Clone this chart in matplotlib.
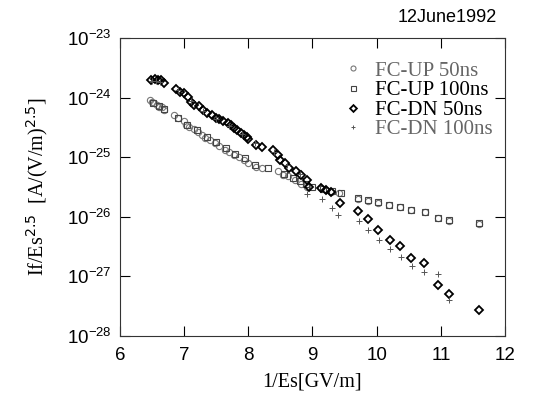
import numpy as np
import matplotlib.pyplot as plt

# FC-UP 50ns (open circles)
up50_x = [6.47, 6.50, 6.53, 6.57, 6.61, 6.65, 6.69, 6.84, 6.91, 6.99, 7.03, 7.08, 7.16, 7.21,
          7.28, 7.33, 7.41, 7.48, 7.55, 7.63, 7.70, 7.78, 7.85, 7.93, 8.00, 8.12, 8.22, 8.47,
          8.54, 8.62, 8.72, 8.82, 8.92, 9.14, 9.21, 9.29, 9.41, 9.71, 9.87, 10.02, 10.20,
          10.37, 10.54, 10.75, 10.95, 11.13, 11.60]
up50_y = [9.0e-25, 8.5e-25, 8.0e-25, 7.6e-25, 7.0e-25, 6.8e-25, 6.2e-25, 5.1e-25, 4.5e-25,
          4.0e-25, 3.5e-25, 3.2e-25, 3.0e-25, 2.6e-25, 2.35e-25, 2.1e-25, 1.95e-25, 1.7e-25,
          1.55e-25, 1.32e-25, 1.23e-25, 1.1e-25, 1.0e-25, 9.1e-26, 7.9e-26, 6.9e-26, 6.6e-26,
          5.8e-26, 5.0e-26, 4.8e-26, 4.2e-26, 3.6e-26, 3.2e-26, 3.0e-26, 2.8e-26, 2.6e-26,
          2.5e-26, 2.0e-26, 1.85e-26, 1.7e-26, 1.55e-26, 1.45e-26, 1.3e-26, 1.2e-26, 9.5e-27,
          8.5e-27, 7.7e-27]

# FC-UP 100ns (open squares)
up100_x = [6.52, 6.60, 6.68, 6.90, 7.05, 7.20, 7.35, 7.50, 7.65, 7.80, 7.95, 8.10, 8.30,
           8.55, 8.70, 8.80, 8.90, 9.00, 9.17, 9.31, 9.44, 9.71, 9.87, 10.02, 10.20, 10.37,
           10.54, 10.75, 10.95, 11.13, 11.60]
up100_y = [8.2e-25, 7.3e-25, 6.5e-25, 4.6e-25, 3.4e-25, 2.8e-25, 2.2e-25, 1.8e-25, 1.45e-25,
           1.15e-25, 9.5e-26, 7.5e-26, 6.5e-26, 5.2e-26, 4.5e-26, 4.0e-26, 3.5e-26, 3.2e-26,
           2.9e-26, 2.7e-26, 2.5e-26, 2.1e-26, 1.9e-26, 1.75e-26, 1.6e-26, 1.47e-26, 1.32e-26,
           1.2e-26, 9.6e-27, 8.7e-27, 7.8e-27]

# FC-DN 50ns (open diamonds)
dn50_x = [6.49, 6.54, 6.59, 6.64, 6.68, 6.88, 6.94, 7.00, 7.06, 7.11, 7.16, 7.23, 7.30, 7.36,
          7.43, 7.50, 7.55, 7.60, 7.68, 7.73, 7.78, 7.83, 7.88, 7.93, 7.98, 8.00, 8.12, 8.22,
          8.39, 8.47, 8.49, 8.57, 8.64, 8.74, 8.82, 8.92, 8.94, 9.14, 9.21, 9.29, 9.43, 9.71,
          9.87, 10.02, 10.21, 10.37, 10.54, 10.74, 10.95, 11.13, 11.60]
dn50_y = [2.0e-24, 2.05e-24, 2.0e-24, 1.95e-24, 1.75e-24, 1.4e-24, 1.25e-24, 1.18e-24,
          1.03e-24, 8.5e-25, 7.6e-25, 7.1e-25, 6.2e-25, 5.6e-25, 5.1e-25, 4.5e-25, 4.3e-25,
          4.0e-25, 3.7e-25, 3.4e-25, 3.1e-25, 2.8e-25, 2.5e-25, 2.35e-25, 2.2e-25, 2.0e-25,
          1.6e-25, 1.5e-25, 1.3e-25, 1.1e-25, 9.1e-26, 7.9e-26, 6.6e-26, 5.8e-26, 5.0e-26,
          4.2e-26, 3.2e-26, 3.0e-26, 2.8e-26, 2.6e-26, 1.7e-26, 1.23e-26, 9.1e-27, 5.9e-27,
          4.1e-27, 3.2e-27, 2.0e-27, 1.65e-27, 7.2e-28, 5.1e-28, 2.75e-28]

# FC-DN 100ns (small plus)
dn100_x = [6.50, 6.56, 6.62, 6.90, 7.10, 7.30, 7.50, 7.70, 7.90, 8.10, 8.40, 8.60, 8.80,
           8.92, 9.15, 9.30, 9.40, 9.72, 9.87, 10.03, 10.21, 10.38, 10.55, 10.74, 10.95, 11.13]
dn100_y = [1.9e-24, 1.9e-24, 1.8e-24, 1.35e-24, 8.8e-25, 6.0e-25, 4.4e-25, 3.3e-25, 2.4e-25,
           1.7e-25, 1.2e-25, 7.5e-26, 5.2e-26, 2.45e-26, 2.0e-26, 1.4e-26, 1.07e-26, 8.5e-27,
           5.9e-27, 4.0e-27, 2.9e-27, 2.1e-27, 1.5e-27, 1.17e-27, 1.1e-27, 4.0e-28]

plt.rcParams['font.family'] = 'Liberation Sans'
fig = plt.figure(figsize=(5.43, 3.99), dpi=100)
ax = fig.add_axes([0.221, 0.158, 0.709, 0.747])

ax.plot(up50_x, up50_y, 'o', ms=4.5, mfc='none', mec='#777777', mew=0.8, linestyle='none',
        label='FC-UP 50ns')
ax.plot(up100_x, up100_y, 's', ms=4.5, mfc='none', mec='#444444', mew=0.8, linestyle='none',
        label='FC-UP 100ns')
ax.plot(dn50_x, dn50_y, 'D', ms=4.3, mfc='none', mec='black', mew=1.3, linestyle='none',
        label='FC-DN 50ns')
ax.plot(dn100_x, dn100_y, '+', ms=4, mec='#555555', mew=0.7, linestyle='none',
        label='FC-DN 100ns')

ax.set_yscale('log')
ax.set_xlim(6, 12)
ax.set_ylim(1e-28, 1e-23)
ax.set_xticks([6, 7, 8, 9, 10, 11, 12])
ax.set_yticks([1e-28, 1e-27, 1e-26, 1e-25, 1e-24, 1e-23])
ax.minorticks_off()
ax.tick_params(direction='in', top=True, right=True, length=7, width=0.8, labelsize=13.5)
ax.tick_params(axis='x', pad=8)
ax.tick_params(axis='y', pad=6)
for s in ax.spines.values():
    s.set_linewidth(0.8)
    s.set_color('#333333')

ax.set_xlabel('1/Es[GV/m]', family='Liberation Serif', fontsize=14.5, labelpad=6)
ax.set_ylabel(r'If/Es$^{2.5}$  [A/(V/m)$^{2.5}$]', family='Liberation Serif',
              fontsize=14.5, labelpad=12)

leg = ax.legend(loc='upper left', bbox_to_anchor=(0.55, 0.95), frameon=False,
                prop={'family': 'Liberation Serif', 'size': 15},
                handletextpad=0.5, labelspacing=0.0, borderaxespad=0.0, handlelength=1.2,
                markerscale=0.8)
for t, c in zip(leg.get_texts(), ['#666666', 'black', 'black', '#666666']):
    t.set_color(c)

fig.text(0.915, 0.957, '12June1992', ha='right', va='center', fontsize=13)

fig.savefig('out.png', dpi=100)
